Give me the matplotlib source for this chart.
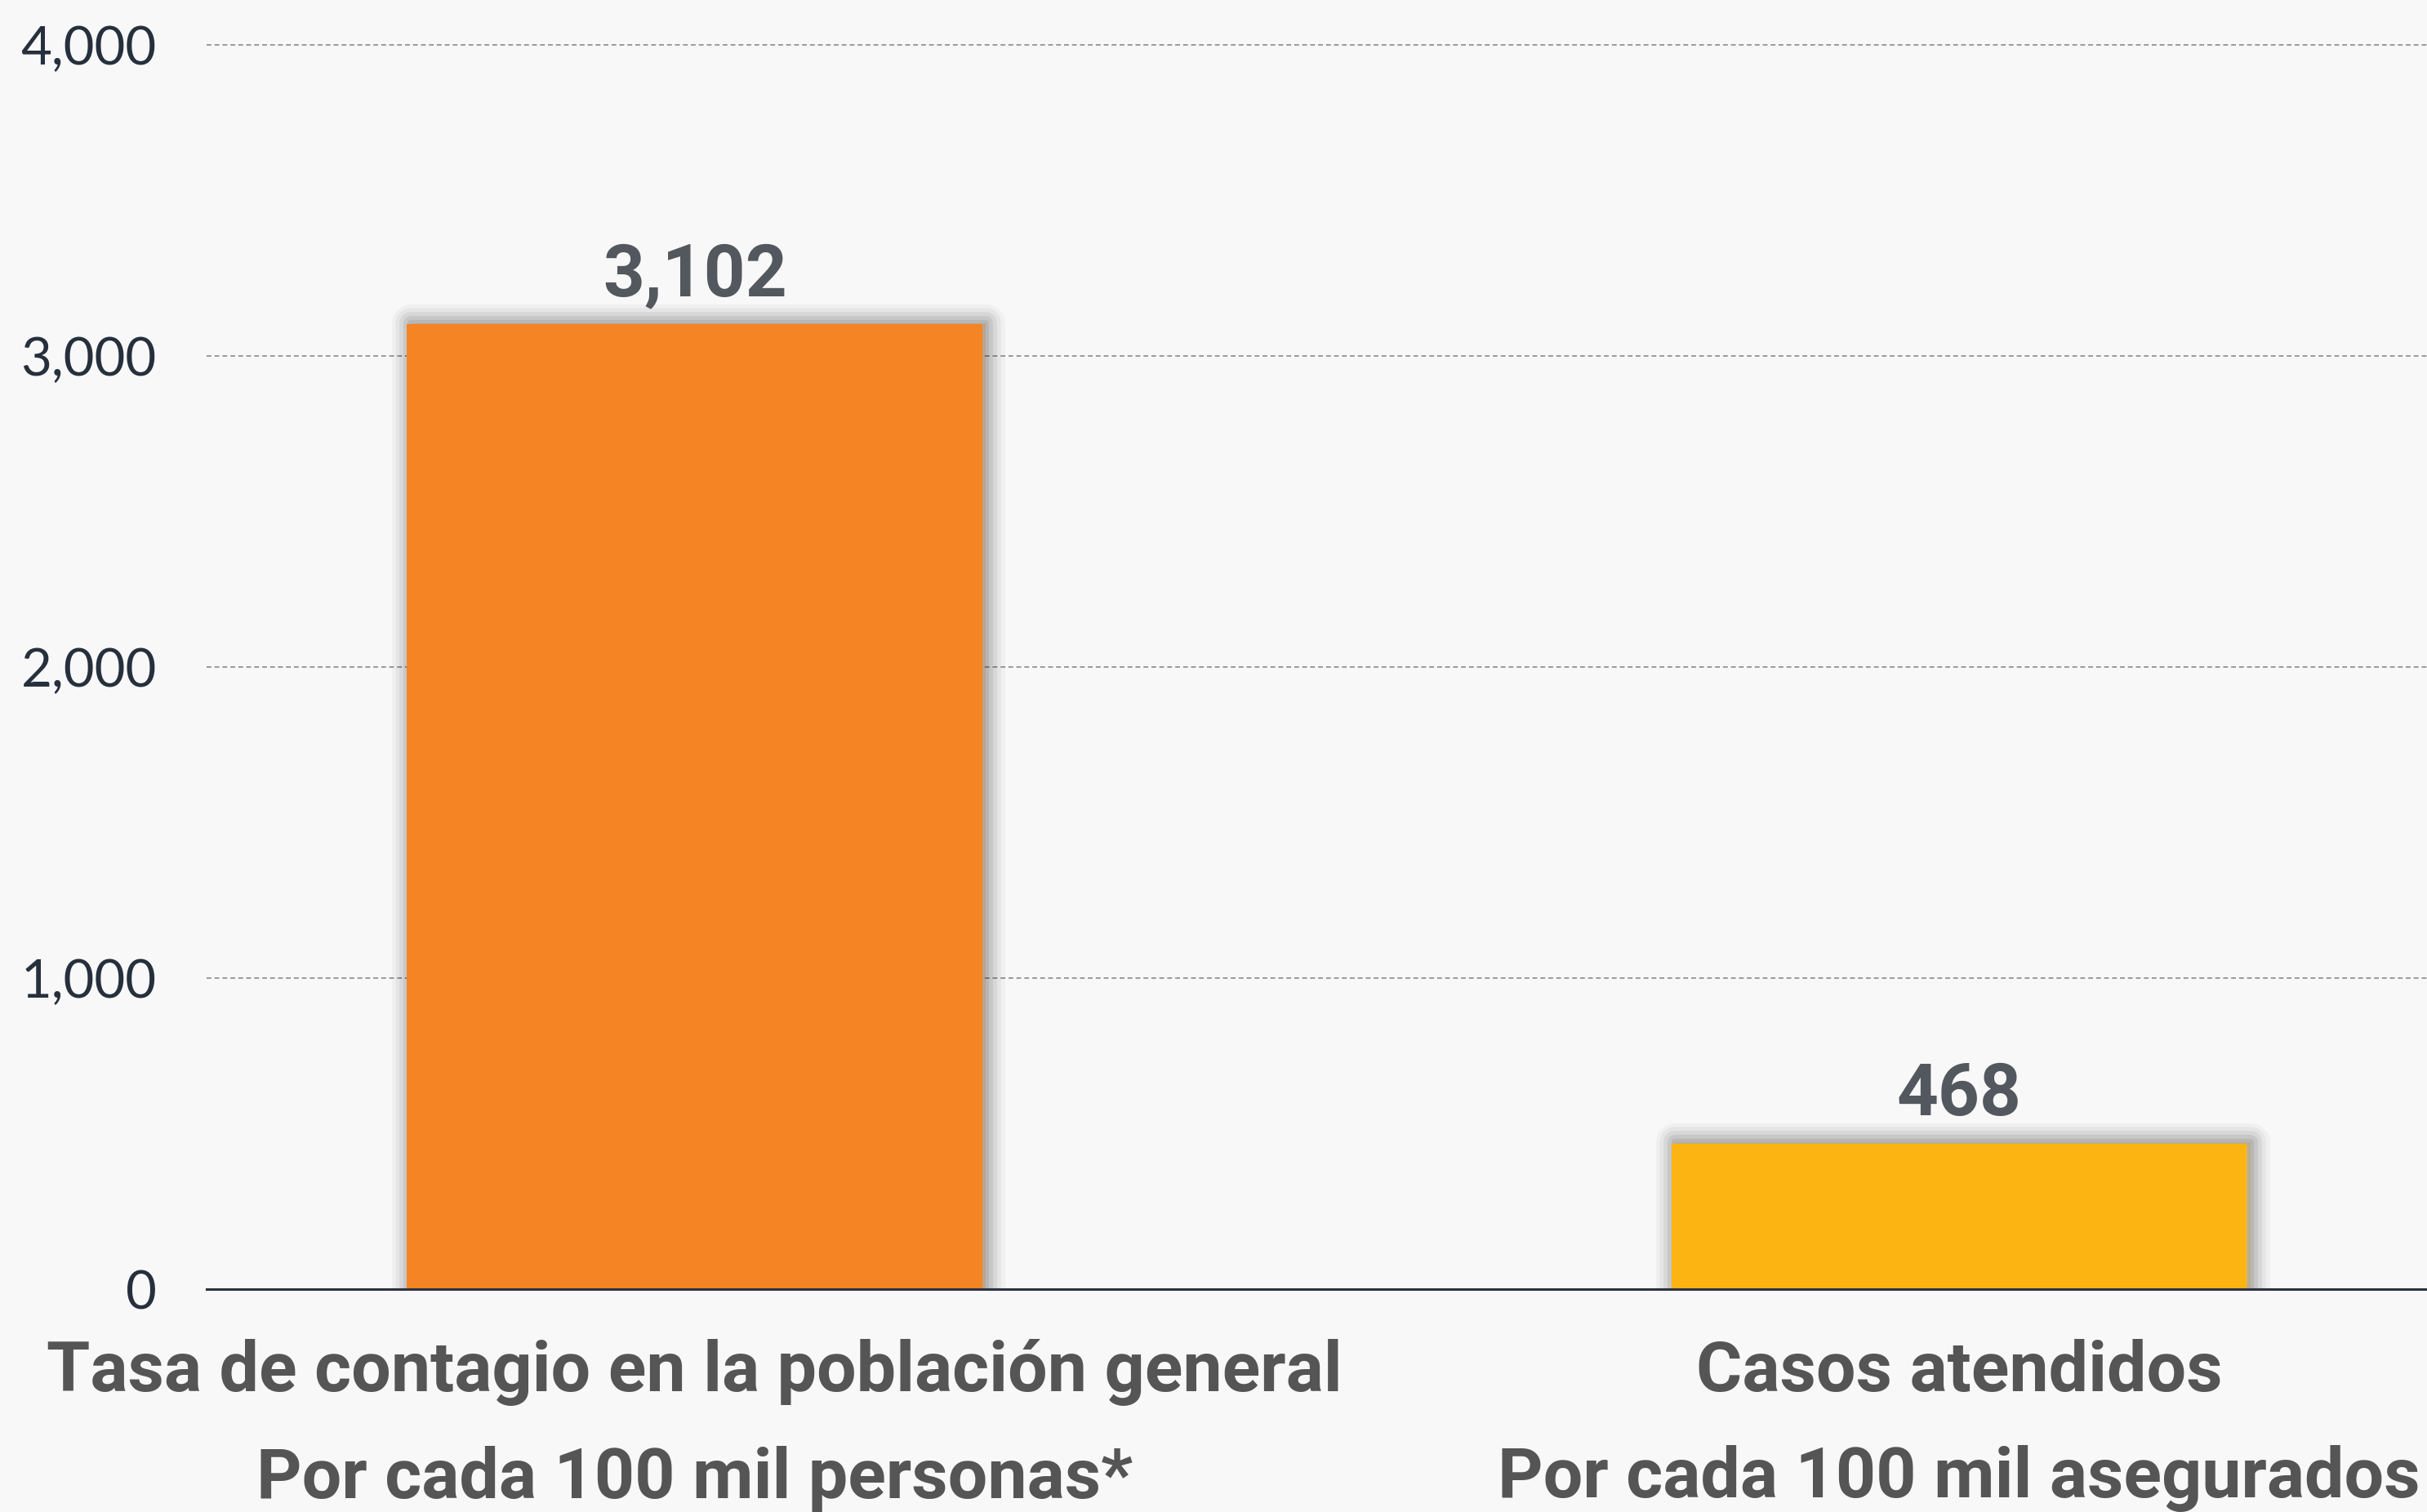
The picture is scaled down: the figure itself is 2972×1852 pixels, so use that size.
import matplotlib
matplotlib.use('Agg')
import matplotlib.pyplot as plt
import matplotlib.patheffects as pe
from matplotlib import font_manager as fm

# chart data
categories = ['Tasa de contagio en la población general\nPor cada 100 mil personas*',
              'Casos atendidos\nPor cada 100 mil asegurados']
values = [3102, 468]
bar_colors = ['#F48424', '#FCB412']
yticks = [0, 1000, 2000, 3000, 4000]
ytick_labels = ['0', '1,000', '2,000', '3,000', '4,000']

bg = '#f8f8f8'

# pick a narrow bold face for the category labels if one is there
names = {f.name for f in fm.fontManager.ttflist}
if 'Liberation Sans Narrow' in names:
    cat_font, cat_size = 'Liberation Sans Narrow', 62
else:
    cat_font, cat_size = 'Roboto', 62

fig = plt.figure(figsize=(29.72, 18.52), dpi=100, facecolor=bg)
ax = fig.add_axes([253 / 2972, 1 - 1579 / 1852, 1 - 253 / 2972, (1579 - 55) / 1852])
ax.set_facecolor(bg)

x = list(range(len(values)))
bars = ax.bar(x, values, width=0.455, color=bar_colors, zorder=3)

# soft drop shadow behind the bars
shadow = []
for lw, a in [(34, 0.03), (27, 0.045), (20, 0.06), (13, 0.07), (6, 0.08)]:
    shadow.append(pe.Stroke(offset=(3, 1), linewidth=lw, foreground='black',
                            alpha=a, joinstyle='round'))
shadow.append(pe.Normal())
for b in bars:
    b.set_path_effects(shadow)

ax.bar_label(bars, labels=[f'{v:,}' for v in values], padding=12,
             fontsize=64, fontweight='bold', family='Roboto', color='#53575E')

ax.set_xlim(-0.386, 1.370)
ax.set_ylim(0, 4000)

for s in ['top', 'left', 'right']:
    ax.spines[s].set_visible(False)
ax.spines['bottom'].set_color('#2b3240')
ax.spines['bottom'].set_linewidth(2.2)
ax.spines['bottom'].set_zorder(4)

ax.set_axisbelow(True)
ax.yaxis.grid(True, linestyle=(0, (3, 2)), color='#9a9a9a', linewidth=1.4)
for gl in ax.get_ygridlines():
    gl.set_clip_on(False)

ax.set_yticks(yticks, ytick_labels)
ax.tick_params(axis='y', length=0, pad=44, labelsize=47, labelcolor='#26303d')
for lbl in ax.get_yticklabels():
    lbl.set_family('Lato')
    lbl.set_fontweight('normal')

ax.set_xticks(x, categories)
ax.tick_params(axis='x', length=0, pad=44)
for lbl in ax.get_xticklabels():
    lbl.set_family(cat_font)
    lbl.set_fontweight('bold')
    lbl.set_fontsize(cat_size)
    lbl.set_color('#555555')
    lbl.set_linespacing(1.76)

fig.savefig('out.png', dpi=100, facecolor=bg)
